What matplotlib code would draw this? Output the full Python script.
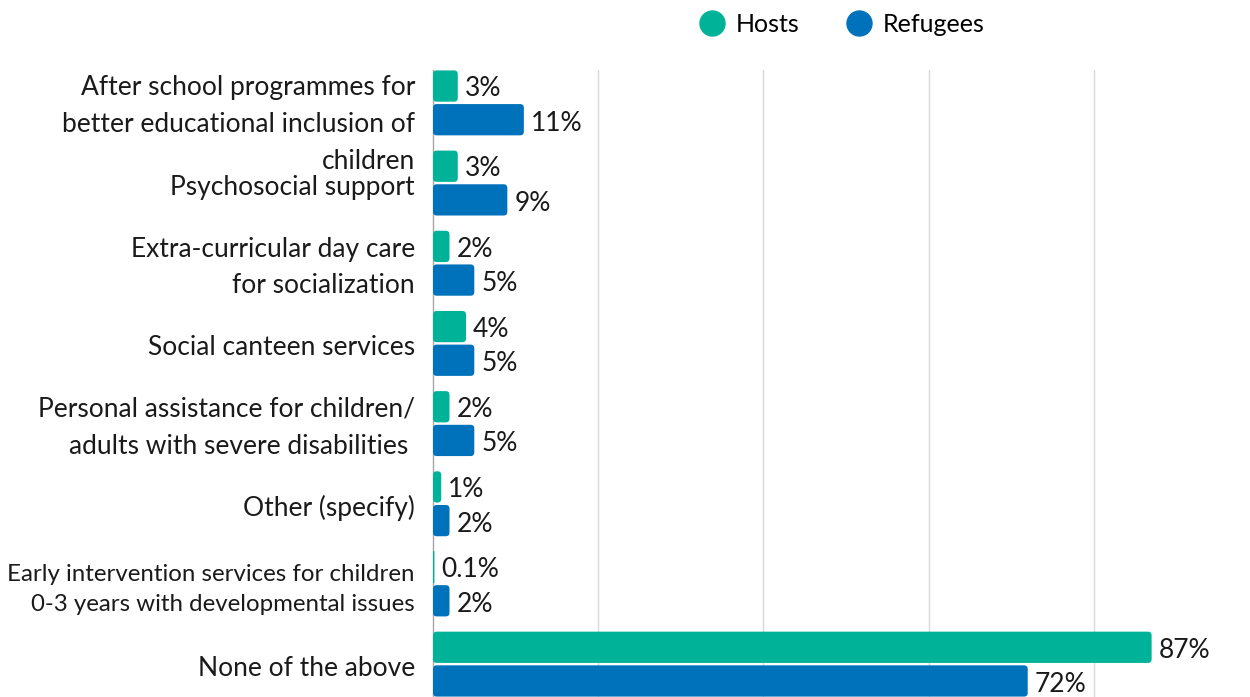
import matplotlib
matplotlib.use('Agg')
import matplotlib.pyplot as plt
from matplotlib.patches import FancyBboxPatch
from matplotlib.lines import Line2D

plt.rcParams['font.family'] = ['Lato', 'DejaVu Sans']

categories = [
    "After school programmes for\nbetter educational inclusion of\nchildren",
    "Psychosocial support",
    "Extra-curricular day care\nfor socialization",
    "Social canteen services",
    "Personal assistance for children/\nadults with severe disabilities ",
    "Other (specify)",
    "Early intervention services for children\n0-3 years with developmental issues",
    "None of the above",
]
hosts = [3, 3, 2, 4, 2, 1, 0.1, 87]
refugees = [11, 9, 5, 5, 5, 2, 2, 72]
value_labels_hosts = ["3%", "3%", "2%", "4%", "2%", "1%", "0.1%", "87%"]
value_labels_refugees = ["11%", "9%", "5%", "5%", "5%", "2%", "2%", "72%"]

HOST_COLOR = '#00B398'
REF_COLOR = '#0072BC'

fig = plt.figure(figsize=(12.5, 6.97), dpi=100)
ax = fig.add_axes([433 / 1250, 0, 826 / 1250, 627 / 697])

y = list(range(len(categories)))
h = 0.39
off = 0.21
bars_h = ax.barh([i - off for i in y], hosts, height=h, color=HOST_COLOR)
bars_r = ax.barh([i + off for i in y], refugees, height=h, color=REF_COLOR)

ax.set_xlim(0, 100)
ax.set_ylim(7.41, -0.41)

# swap the square bars for rounded ones
for bars in (bars_h, bars_r):
    for b in bars:
        x0, y0 = b.get_x(), b.get_y()
        w, hh = b.get_width(), b.get_height()
        r = min(0.45, w / 2)
        fc = b.get_facecolor()
        # very thin bars get an outline so they still show up
        thin = w < 0.5
        p = FancyBboxPatch((x0, y0), w, hh,
                           boxstyle=f"round,pad=0,rounding_size={r}",
                           mutation_aspect=0.105,
                           facecolor=fc, edgecolor=fc if thin else 'none',
                           linewidth=0.8 if thin else 0, zorder=3)
        b.set_visible(False)
        ax.add_patch(p)

# value labels
for i in y:
    ax.annotate(value_labels_hosts[i], (hosts[i], i - off), xytext=(5, -2),
                textcoords='offset points', va='center', ha='left',
                fontsize=19, color='#1a1a1a')
    ax.annotate(value_labels_refugees[i], (refugees[i], i + off), xytext=(5, -2.5),
                textcoords='offset points', va='center', ha='left',
                fontsize=19, color='#1a1a1a')

# category labels
for i, lab in enumerate(categories):
    small = lab.startswith("Early")
    size = 17.3 if small else 19
    dy = -12.6 if lab.count("\n") == 2 else 0
    dy -= 4 if small else 3
    ax.annotate(lab, (0, i), xytext=(-13, dy), textcoords='offset points',
                va='center', ha='right', fontsize=size, color='#1a1a1a',
                linespacing=1.55 if small else 1.58, annotation_clip=False)

ax.set_yticks([])
ax.set_xticks([20, 40, 60, 80, 100])
ax.tick_params(axis='x', length=0, labelbottom=False)
ax.grid(axis='x', color='#d9d9d9', linewidth=1)
ax.set_axisbelow(True)
for s in ['top', 'right', 'bottom']:
    ax.spines[s].set_visible(False)
ax.spines['left'].set_color('#a6a6a6')
ax.spines['left'].set_linewidth(1)

handles = [
    Line2D([], [], marker='o', linestyle='none', markersize=18,
           markerfacecolor=HOST_COLOR, markeredgecolor=HOST_COLOR, label='Hosts'),
    Line2D([], [], marker='o', linestyle='none', markersize=18,
           markerfacecolor=REF_COLOR, markeredgecolor=REF_COLOR, label='Refugees'),
]
fig.legend(handles=handles, loc='center', bbox_to_anchor=(842 / 1250, 1 - 24 / 697),
           ncol=2, frameon=False, fontsize=18, handletextpad=0.45,
           columnspacing=1.9, handlelength=1.0)

plt.savefig('out.png', dpi=100)
